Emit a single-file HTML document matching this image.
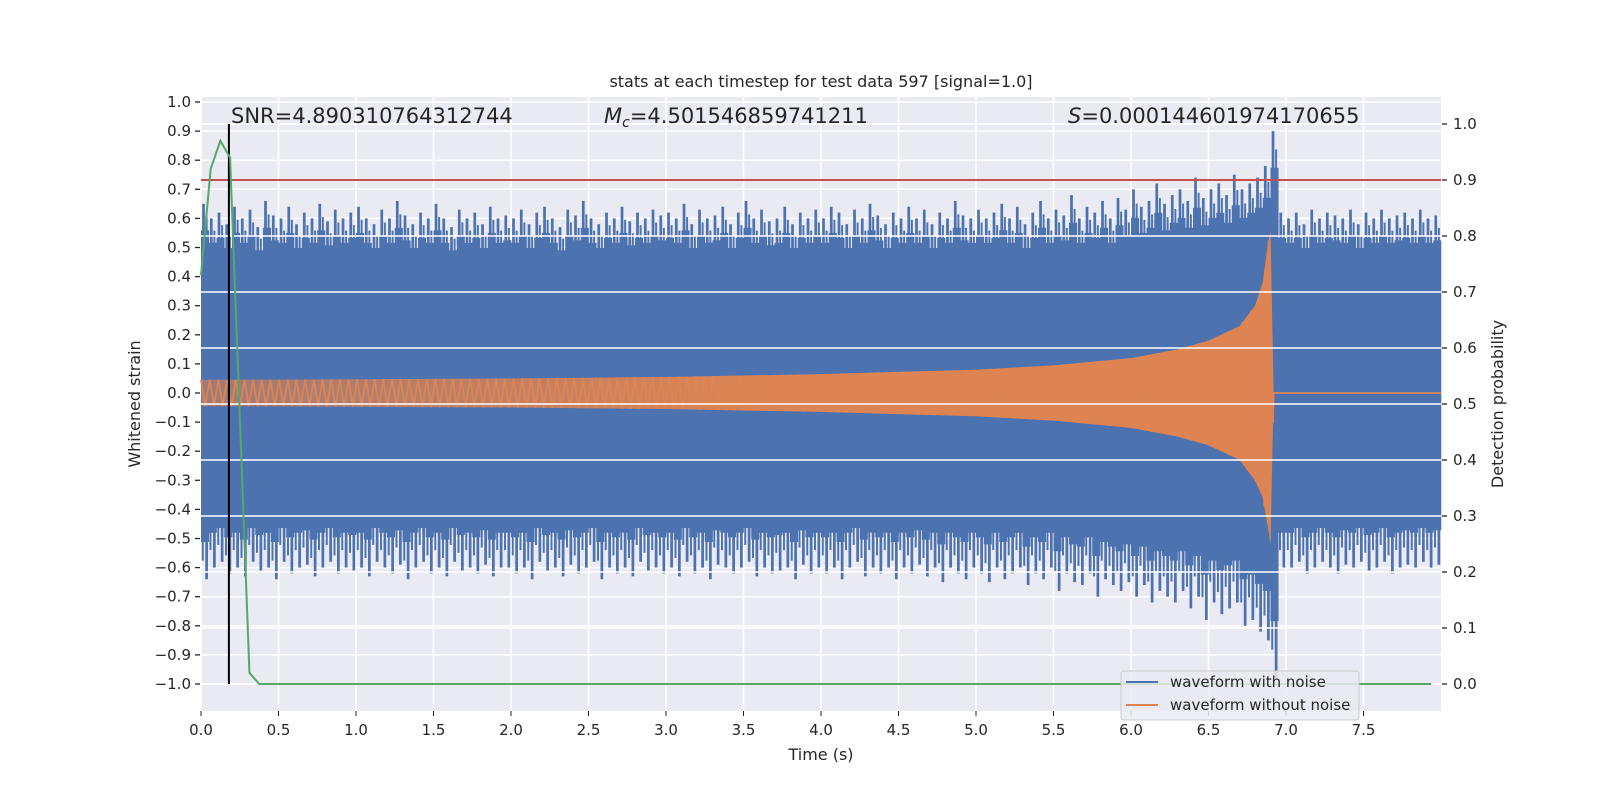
<!DOCTYPE html>
<html><head><meta charset="utf-8"><style>
body{margin:0;background:#fff}
svg text{font-family:"DejaVu Sans","Liberation Sans",sans-serif;fill:#262626}
</style></head><body>
<svg id="c" width="1600" height="800" xmlns="http://www.w3.org/2000/svg"></svg>
<script>
const binStart=0, binWidth=0.05;
const upperEnv=[0.65,0.6,0.62,0.58,0.64,0.6,0.63,0.57,0.66,0.61,0.6,0.64,0.58,0.62,0.6,0.65,0.59,0.63,0.6,0.62,
0.64,0.6,0.58,0.63,0.6,0.66,0.61,0.58,0.62,0.6,0.65,0.6,0.57,0.63,0.6,0.62,0.58,0.64,0.6,0.61,
0.6,0.63,0.58,0.62,0.64,0.6,0.57,0.63,0.61,0.66,0.6,0.58,0.62,0.6,0.64,0.59,0.62,0.6,0.63,0.61,
0.62,0.6,0.65,0.58,0.63,0.6,0.61,0.64,0.58,0.62,0.66,0.6,0.63,0.59,0.6,0.64,0.58,0.62,0.6,0.63,
0.6,0.64,0.62,0.58,0.63,0.6,0.65,0.61,0.58,0.62,0.6,0.64,0.6,0.63,0.58,0.62,0.6,0.66,0.61,0.6,
0.63,0.6,0.62,0.65,0.6,0.64,0.58,0.62,0.66,0.6,0.63,0.61,0.68,0.6,0.64,0.62,0.66,0.6,0.67,0.63,
0.7,0.64,0.66,0.72,0.65,0.68,0.7,0.66,0.74,0.67,0.7,0.72,0.68,0.75,0.7,0.72,0.74,0.78,0.9,0.62,
0.6,0.62,0.58,0.63,0.6,0.62,0.61,0.6,0.63,0.58,0.62,0.6,0.63,0.6,0.61,0.62,0.6,0.63,0.6,0.61];
const lowerEnv=[-0.64,-0.6,-0.58,-0.62,-0.6,-0.63,-0.58,-0.61,-0.6,-0.64,-0.58,-0.62,-0.6,-0.59,-0.63,-0.6,-0.58,-0.62,-0.6,-0.61,
-0.6,-0.63,-0.58,-0.6,-0.62,-0.59,-0.64,-0.6,-0.58,-0.62,-0.6,-0.63,-0.58,-0.61,-0.6,-0.62,-0.59,-0.63,-0.6,-0.6,
-0.62,-0.6,-0.64,-0.58,-0.61,-0.6,-0.63,-0.59,-0.62,-0.6,-0.58,-0.64,-0.6,-0.62,-0.6,-0.63,-0.58,-0.61,-0.6,-0.62,
-0.6,-0.63,-0.58,-0.62,-0.6,-0.64,-0.59,-0.6,-0.62,-0.6,-0.58,-0.63,-0.6,-0.62,-0.61,-0.6,-0.64,-0.59,-0.62,-0.6,
-0.62,-0.6,-0.64,-0.6,-0.58,-0.63,-0.6,-0.62,-0.6,-0.64,-0.6,-0.62,-0.59,-0.63,-0.6,-0.65,-0.6,-0.62,-0.64,-0.6,
-0.62,-0.65,-0.6,-0.64,-0.62,-0.6,-0.66,-0.62,-0.64,-0.6,-0.68,-0.62,-0.65,-0.66,-0.62,-0.7,-0.64,-0.66,-0.68,-0.65,
-0.7,-0.66,-0.72,-0.68,-0.7,-0.72,-0.68,-0.74,-0.7,-0.78,-0.72,-0.76,-0.74,-0.72,-0.8,-0.78,-0.82,-0.85,-0.98,-0.6,
-0.6,-0.58,-0.62,-0.6,-0.58,-0.6,-0.62,-0.59,-0.6,-0.58,-0.61,-0.6,-0.58,-0.62,-0.6,-0.59,-0.6,-0.58,-0.6,-0.59];
const chirpT=[0,1,2,3,4,5,5.5,6,6.3,6.5,6.7,6.8,6.85,6.88,6.9,6.92];
const chirpUp=[0.045,0.047,0.05,0.055,0.065,0.08,0.095,0.12,0.15,0.18,0.23,0.3,0.38,0.5,0.56,0.0];
const chirpDn=[-0.045,-0.047,-0.05,-0.055,-0.065,-0.08,-0.095,-0.12,-0.15,-0.18,-0.23,-0.3,-0.36,-0.45,-0.52,0.0];
const probT=[0,0.0625,0.125,0.1875,0.3125,0.375,7.9375];
const probV=[0.73,0.92,0.97,0.94,0.02,0.0,0.0];
const threshold=0.9, markerT=0.18;
const xTicks=[0,0.5,1,1.5,2,2.5,3,3.5,4,4.5,5,5.5,6,6.5,7,7.5];
const yLTicks=[1,0.9,0.8,0.7,0.6,0.5,0.4,0.3,0.2,0.1,0,-0.1,-0.2,-0.3,-0.4,-0.5,-0.6,-0.7,-0.8,-0.9,-1];
const yRTicks=[1,0.9,0.8,0.7,0.6,0.5,0.4,0.3,0.2,0.1,0];

const X0=201,X1=1441,Y0=97,Y1=711;
const xs=t=>201+t*155, yL=v=>393-v*291, yR=p=>684-p*560;
const svg=document.getElementById('c');
const NS='http://www.w3.org/2000/svg';
function mk(tag,attrs,parent){const e=document.createElementNS(NS,tag);for(const k in attrs)e.setAttribute(k,attrs[k]);(parent||svg).appendChild(e);return e;}
function interp(ts,vs,t){for(let i=0;i<ts.length-1;i++){if(t<=ts[i+1]){const f=(t-ts[i])/(ts[i+1]-ts[i]);return vs[i]+f*(vs[i+1]-vs[i]);}}return vs[vs.length-1];}

let e=mk('rect',{x:X0,y:Y0,width:X1-X0,height:Y1-Y0,fill:'#eaeaf2'});

const g1=mk('g',{stroke:'#fff','stroke-width':1.5});

xTicks.forEach(t=>mk('line',{x1:xs(t),x2:xs(t),y1:Y0,y2:Y1},g1));
yLTicks.forEach(v=>mk('line',{x1:X0,x2:X1,y1:yL(v),y2:yL(v)},g1));

// blue: solid core plus spikes
const gb=mk('g',{fill:'#4c72b0'});

upperEnv.forEach((u,i)=>{const t=binStart+i*binWidth;const l=lowerEnv[i];
 const w=xs(t+binWidth)-xs(t);
 const cu=u*0.86, cl=l*0.8;
 let r=mk('rect',{x:xs(t),y:yL(cu),width:w+0.3,height:yL(cl)-yL(cu)},gb);
 
 r=mk('rect',{x:xs(t)+w*0.15,y:yL(u),width:w*0.35,height:yL(cu)-yL(u)+1},gb);
 
 r=mk('rect',{x:xs(t)+w*0.6,y:yL((u+cu)/2),width:w*0.25,height:yL(cu)-yL((u+cu)/2)+1},gb);
 
 r=mk('rect',{x:xs(t)+w*0.55,y:yL(cl)-1,width:w*0.35,height:yL(l)-yL(cl)+1},gb);
 
 r=mk('rect',{x:xs(t)+w*0.1,y:yL(cl)-1,width:w*0.25,height:yL((l+cl)/2)-yL(cl)+1},gb);
 
});

// orange chirp
const defs=mk('defs',{});
const gr=mk('linearGradient',{id:'og',x1:xs(0),x2:xs(6),y1:0,y2:0,gradientUnits:'userSpaceOnUse'},defs);
mk('stop',{offset:0,'stop-color':'#dd8452','stop-opacity':0.55},gr);
mk('stop',{offset:0.6,'stop-color':'#dd8452','stop-opacity':1},gr);
mk('stop',{offset:1,'stop-color':'#dd8452','stop-opacity':1},gr);
let d='';chirpT.forEach((t,i)=>{d+=(i?'L':'M')+xs(t)+','+yL(chirpUp[i]);});
for(let i=chirpT.length-1;i>=0;i--)d+='L'+xs(chirpT[i])+','+yL(chirpDn[i]);d+='Z';
e=mk('path',{d:d,fill:'url(#og)'});

let z='';let k=0;const tEnd=chirpT[chirpT.length-1];
for(let t=0;t<=tEnd;t+=0.028,k++){const a=k%2?interp(chirpT,chirpDn,t):interp(chirpT,chirpUp,t);z+=(k?'L':'M')+xs(t).toFixed(1)+','+yL(a).toFixed(1);}
z+='L'+xs(tEnd)+','+yL(0)+'L'+xs(8)+','+yL(0);
e=mk('path',{d:z,fill:'none',stroke:'#dd8452','stroke-width':1.8});


// right grid on top
const g2=mk('g',{stroke:'#fff','stroke-width':1.5});

yRTicks.forEach(p=>mk('line',{x1:X0,x2:X1,y1:yR(p),y2:yR(p)},g2));

e=mk('line',{x1:X0,x2:X1,y1:yR(threshold),y2:yR(threshold),stroke:'#c44e52','stroke-width':2});

e=mk('line',{x1:xs(markerT),x2:xs(markerT),y1:yR(0),y2:yR(1),stroke:'#000','stroke-width':2});

e=mk('polyline',{points:probT.map((t,i)=>xs(t)+','+yR(probV[i])).join(' '),fill:'none',stroke:'#55a868','stroke-width':2});


// ticks
xTicks.forEach(t=>{mk('line',{x1:xs(t),x2:xs(t),y1:Y1,y2:Y1+5,stroke:'#262626'});
 const tx=mk('text',{x:xs(t),y:Y1+24,'text-anchor':'middle','font-size':15});tx.textContent=t.toFixed(1);
 });
yLTicks.forEach(v=>{mk('line',{x1:X0-6,x2:X0-1,y1:yL(v),y2:yL(v),stroke:'#262626','stroke-width':1.3});
 const tx=mk('text',{x:X0-10,y:yL(v)+5,'text-anchor':'end','font-size':15});tx.textContent=(v<0?'\u2212':'')+Math.abs(v).toFixed(1);
 });
yRTicks.forEach(p=>{mk('line',{x1:X1+1,x2:X1+6,y1:yR(p),y2:yR(p),stroke:'#262626','stroke-width':1.3});
 const tx=mk('text',{x:X1+12,y:yR(p)+5,'font-size':15});tx.textContent=p.toFixed(1);
 });
</script>
<svg width="1600" height="800" style="position:absolute;left:0;top:0">
<text x="821" y="87" text-anchor="middle" font-size="16">stats at each timestep for test data 597 [signal=1.0]</text>
<text x="231" y="123" font-size="21">SNR=4.890310764312744</text>
<text x="604" y="123" font-size="21"><tspan font-style="italic">M</tspan><tspan font-style="italic" font-size="14" dy="4">c</tspan><tspan dy="-4">=4.501546859741211</tspan></text>
<text x="1068" y="123" font-size="21"><tspan font-style="italic">S</tspan>=0.000144601974170655</text>
<text x="821" y="760" text-anchor="middle" font-size="16">Time (s)</text>
<text transform="translate(140,404) rotate(-90)" text-anchor="middle" font-size="16">Whitened strain</text>
<text transform="translate(1503,404) rotate(-90)" text-anchor="middle" font-size="16">Detection probability</text>
<g>
<rect x="1121" y="671" width="238" height="49" rx="3" fill="#eaeaf2" fill-opacity="0.85" stroke="#cccccc"/>
<line x1="1126" x2="1158" y1="682" y2="682" stroke="#4c72b0" stroke-width="2"/>
<text x="1170" y="687" font-size="15">waveform with noise</text>
<line x1="1126" x2="1158" y1="705" y2="705" stroke="#dd8452" stroke-width="2"/>
<text x="1170" y="710" font-size="15">waveform without noise</text>
</g>
</svg>
</body></html>
